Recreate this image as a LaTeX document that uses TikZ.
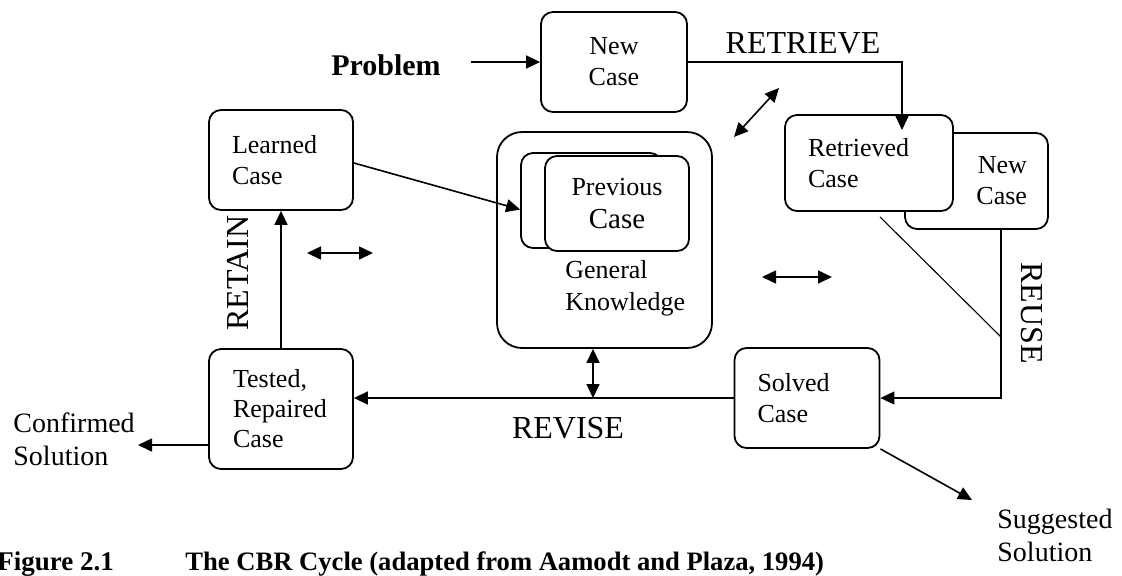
\documentclass[tikz,border=0pt]{standalone}
\usepackage{fontspec}
\setmainfont{Liberation Serif}
\usetikzlibrary{arrows.meta, positioning}

\begin{document}
\begin{tikzpicture}[x=0.5pt, y=-0.5pt,
  casebox/.style={draw=black, line width=0.9pt, rounded corners=6pt, fill=white, inner sep=0pt, font=\fontsize{13}{15.5}\selectfont},
  leftbox/.style={casebox, align=left, inner xsep=11.5pt},
  arr/.style={line width=0.8pt, -{Triangle[length=7pt, width=6.5pt]}},
  thinarr/.style={line width=0.55pt, -{Triangle[length=7pt, width=6.5pt]}},
  dblarr/.style={line width=0.8pt, {Triangle[length=7pt, width=6.5pt]}-{Triangle[length=7pt, width=6.5pt]}},
  biglbl/.style={font=\fontsize{16}{19}\selectfont, inner sep=0pt},
  sollbl/.style={font=\fontsize{14}{16.5}\selectfont, inner sep=0pt, align=left, anchor=north west}]

\useasboundingbox (0,0) rectangle (1122,575);

% case boxes
\node[casebox, minimum width=73pt, minimum height=50pt, align=center] (newcase) at (614,62) {New\\Case};
\node[leftbox, minimum width=72pt, minimum height=50pt, text width=49pt] (learned) at (281,160) {Learned\\Case};
\node[leftbox, minimum width=72pt, minimum height=60pt, text width=48pt, inner xsep=12pt, font=\fontsize{13}{15}\selectfont] (tested) at (281,409) {Tested,\\Repaired\\Case};
\node[leftbox, minimum width=72.5pt, minimum height=50pt, text width=49.5pt] (solved) at (807,398) {Solved\\Case};
\node[casebox, minimum width=71.5pt, minimum height=48pt, align=right, inner xsep=10.5pt, text width=50.5pt] (newcase2) at (976.5,181) {New\\Case};
\node[leftbox, minimum width=84pt, minimum height=48pt, text width=61pt] (retrieved) at (869,163) {Retrieved\\Case};

% knowledge base in the middle
\node[casebox, rounded corners=12.5pt, minimum width=107.5pt, minimum height=108pt] (gk) at (604.5,240) {};
\node[casebox, minimum width=70.5pt, minimum height=47.5pt] (prevback) at (591.5,200.5) {};
\node[casebox, minimum width=72pt, minimum height=47.5pt, align=center] (prevfront) at (617,203.5) {Previous\\[1pt]\fontsize{14.5}{17}\selectfont Case};
\node[font=\fontsize{13}{16}\selectfont, align=left, inner sep=0pt, anchor=north west] (gktext) at (565,260) {General\\Knowledge};

% labels
\node[font=\bfseries\fontsize{15}{18}\selectfont, anchor=base, inner sep=0pt] (problem) at (386,75) {Problem};
\node[biglbl, anchor=base] (retrievelbl) at (803,53) {RETRIEVE};
\node[biglbl, rotate=90] (retainlbl) at (238,273) {RETAIN};
\node[biglbl, rotate=-90] (reuselbl) at (1032,313) {REUSE};
\node[biglbl, anchor=base] (reviselbl) at (568,438) {REVISE};
\node[sollbl] (confirmed) at (13,412) {Confirmed\\Solution};
\node[sollbl] (suggested) at (997,509) {Suggested\\Solution};
\node[font=\bfseries\fontsize{13.5}{16}\selectfont, anchor=base west, inner sep=0pt] (figno) at (-3,570) {Figure 2.1};
\node[font=\bfseries\fontsize{13.3}{16}\selectfont, anchor=base west, inner sep=0pt] (figtitle) at (185,570) {The CBR Cycle (adapted from Aamodt and Plaza, 1994)};

% free ends
\coordinate (retrievetip) at (902,130);
\coordinate (linkA) at (734,137);
\coordinate (linkB) at (779,88);
\coordinate (leftA) at (307,253);
\coordinate (leftB) at (373,253);
\coordinate (rightA) at (762,277);
\coordinate (rightB) at (832,277);
\coordinate (gkdown) at (593,398);
\coordinate (reusejoin) at (1001,337);
\coordinate (suggtip) at (972,500);
\coordinate (confirmtip) at (138,445);

% cycle
\draw[arr, shorten <=15pt] (problem.east |- newcase.west) -- (newcase.west);
\draw[thinarr] (newcase.east) -| (retrievetip);
\draw[thinarr] ([xshift=12.25pt]newcase2.south) coordinate (reusetop) |- (solved.east);
\draw[line width=0.55pt] ([xshift=5.5pt, yshift=-2.5pt]retrieved.south) -- (reusejoin);
\draw[arr] (solved.west) -- (solved.west -| tested.east);
\draw[arr] (tested.north) -- (learned.south);
\draw[arr] ([yshift=-1.5pt]learned.east) -- ([yshift=-4.5pt]prevback.west);
\draw[arr] (solved.south east) -- (suggtip);
\draw[arr] (tested.west |- confirmtip) -- (confirmtip);

% links to the knowledge base
\draw[dblarr] (linkA) -- (linkB);
\draw[dblarr] (leftA) -- (leftB);
\draw[dblarr] (rightA) -- (rightB);
\draw[dblarr] (gkdown |- gk.south) -- (gkdown);
\end{tikzpicture}
\end{document}
